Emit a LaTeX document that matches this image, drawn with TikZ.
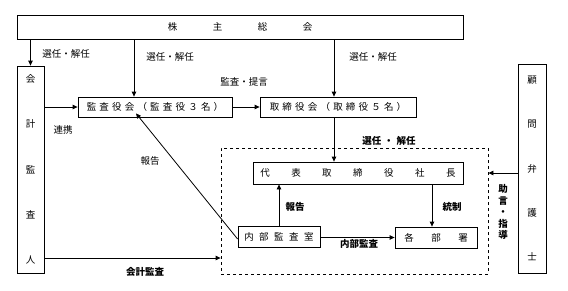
\documentclass[tikz,border=0pt]{standalone}
\usepackage{fontspec}
\setmainfont{Noto Sans CJK JP}
\usetikzlibrary{arrows.meta}
\begin{document}
\begin{tikzpicture}[x=1pt,y=-1pt,font=\fontsize{9.5}{11.4}\selectfont,
  box/.style={draw,line width=0.8pt,inner sep=0pt},
  arr/.style={line width=0.8pt,-{Triangle[length=5pt,width=4.5pt]}},
  lbl/.style={inner sep=0pt}]
\useasboundingbox (0,0) rectangle (568,290);
\node[draw,dashed,line width=0.8pt,minimum width=267,minimum height=126] (shikkou) at (354.5,211) {};
\node[box,minimum width=446,minimum height=24] (soukai) at (240,27) {株\hspace{35.5pt}主\hspace{35.5pt}総\hspace{35.5pt}会};
\node[box,minimum width=27,minimum height=207,align=center] (kaikei) at (30.5,169.5) {会\\[34pt]計\\[34pt]監\\[34pt]査\\[34pt]人};
\node[box,minimum width=28,minimum height=209,align=center] (komon) at (532,168.5) {顧\\[33pt]問\\[33pt]弁\\[33pt]護\\[33pt]士};
\node[box,minimum width=154,minimum height=20] (kansayaku) at (155,107) {監\hspace{3.2pt}査\hspace{3.2pt}役\hspace{3.2pt}会\hspace{3.2pt}（\hspace{3.2pt}監\hspace{3.2pt}査\hspace{3.2pt}役\hspace{3.2pt}３\hspace{3.2pt}名\hspace{3.2pt}）};
\node[box,minimum width=156,minimum height=20] (torishimari) at (338,107) {取\hspace{3.2pt}締\hspace{3.2pt}役\hspace{3.2pt}会\hspace{3.2pt}（\hspace{3.2pt}取\hspace{3.2pt}締\hspace{3.2pt}役\hspace{3.2pt}５\hspace{3.2pt}名\hspace{3.2pt}）};
\node[box,minimum width=210,minimum height=22] (shacho) at (358,173) {代\hspace{21.5pt}表\hspace{21.5pt}取\hspace{21.5pt}締\hspace{21.5pt}役\hspace{21.5pt}社\hspace{21.5pt}長};
\node[box,minimum width=82,minimum height=21] (naibu) at (279,236.5) {内\hspace{5.5pt}部\hspace{5.5pt}監\hspace{5.5pt}査\hspace{5.5pt}室};
\node[box,minimum width=82,minimum height=21] (kakubu) at (436,237.5) {各\hspace{17.5pt}部\hspace{17.5pt}署};
\draw[arr] (soukai.south -| kaikei) -- (kaikei.north);
\draw[arr] (soukai.south -| 134,0) -- (kansayaku.north -| 134,0);
\draw[arr] (soukai.south -| 334,0) -- (torishimari.north -| 334,0);
\draw[arr] (kaikei.east |- kansayaku) -- (kansayaku.west);
\draw[arr] (kansayaku.east) -- (torishimari.west);
\draw[arr] (torishimari.south -| 334,0) -- (shacho.north -| 334,0);
\draw[arr] (naibu.north) -- (shacho.south -| naibu);
\draw[arr] (shacho.south -| 432,0) -- (kakubu.north -| 432,0);
\draw[arr] (naibu.east |- kakubu) -- (kakubu.west);
\draw[arr] ([yshift=-2.5pt]naibu.west) -- ([xshift=-19pt,yshift=4pt]kansayaku.south);
\draw[arr] (kaikei.east |- 0,258) -- (shikkou.west |- 0,258);
\draw[arr] (komon.west |- shacho) -- (shikkou.east |- shacho);
\node[lbl] (l1) at (66,54) {選任・解任};
\node[lbl] (l2) at (170,57) {選任・解任};
\node[lbl] (l3) at (373,57) {選任・解任};
\node[lbl] (l4) at (244,82) {監査・提言};
\node[lbl] (l5) at (63,130) {連携};
\node[lbl,font=\fontsize{9.5}{11.4}\selectfont\bfseries] (l6) at (389,141) {選任\hspace{3pt}・\hspace{3pt}解任};
\node[lbl] (l7) at (150,161) {報告};
\node[lbl,font=\fontsize{9.5}{11.4}\selectfont\bfseries] (l8) at (295,207) {報告};
\node[lbl,font=\fontsize{9.5}{11.4}\selectfont\bfseries] (l9) at (452,207) {統制};
\node[lbl,font=\fontsize{9.5}{11.4}\selectfont\bfseries] (l10) at (359,244) {内部監査};
\node[lbl,font=\fontsize{9.5}{11.4}\selectfont\bfseries] (l11) at (145,272) {会計監査};
\node[lbl,align=center,font=\fontsize{9.5}{11.6}\selectfont\bfseries] (l12) at (503,212) {助\\言\\・\\指\\導};
\end{tikzpicture}
\end{document}
